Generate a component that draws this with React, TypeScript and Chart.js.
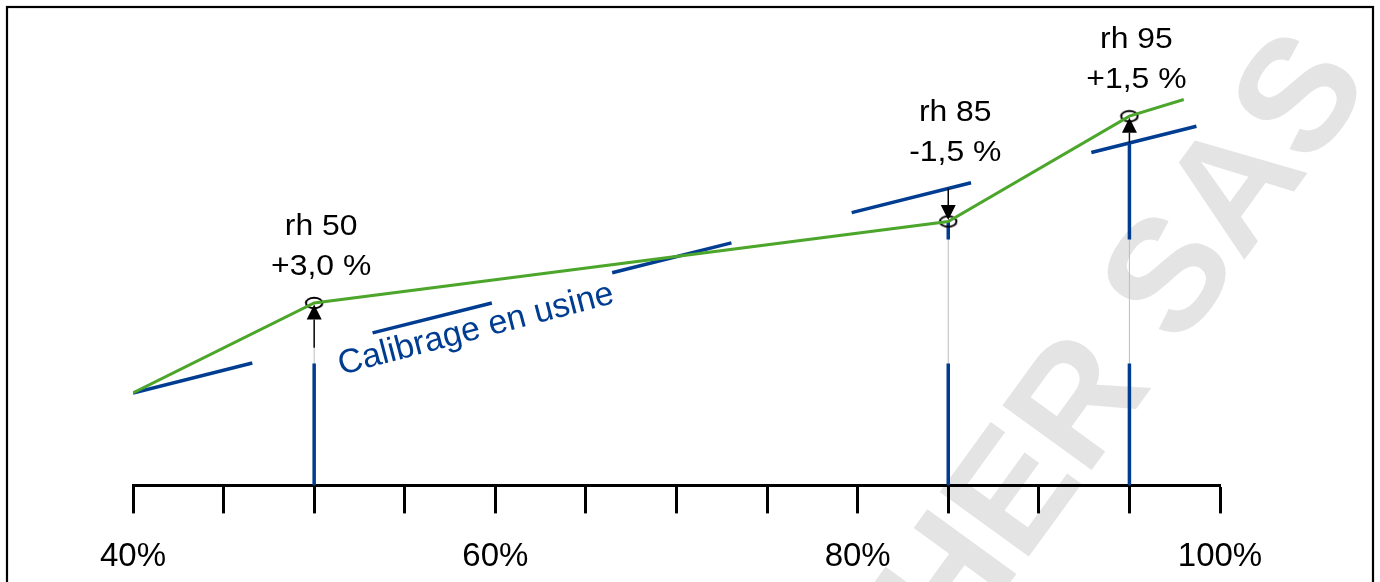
import { useEffect, useRef } from 'react';
import { Chart, registerables } from 'chart.js';

Chart.register(...registerables);

// ---- data ----
const axisLabelValues = [40, 60, 80, 100];
const axisLabels = ['40%', '60%', '80%', '100%'];

// factory calibration line (dashed blue)
const factoryX = [40, 98.7];
const factoryY = [19.4, 75.4];

// adjusted curve (green)
const adjustedX = [40, 50, 85, 95, 98];
const adjustedY = [19.4, 38.3, 55.4, 77.5, 81.0];

// calibration points
const calPointX = [50, 85, 95];
const calPointFactory = [28.9, 62.3, 71.9];
const calPointAdjusted = [38.3, 55.4, 77.5];
const calPointName = ['rh 50', 'rh 85', 'rh 95'];
const calPointOffset = ['+3,0 %', '-1,5 %', '+1,5 %'];

const seriesLabel = 'Calibrage en usine';
const watermarkText = 'HER SAS';

const BLUE = '#003d91';
const GREEN = '#4ca62b';
const FONT = '"Liberation Sans", Arial, sans-serif';

function makeEllipse(): HTMLCanvasElement {
  const c = document.createElement('canvas');
  c.width = 20;
  c.height = 14;
  const g = c.getContext('2d')!;
  g.strokeStyle = '#000';
  g.lineWidth = 2;
  g.beginPath();
  g.ellipse(10, 7, 8.2, 5.3, 0, 0, Math.PI * 2);
  g.stroke();
  return c;
}

const overlayPlugin = {
  id: 'overlay',
  beforeDraw(chart: any) {
    const ctx = chart.ctx as CanvasRenderingContext2D;
    ctx.save();
    ctx.translate(1128, 345);
    ctx.rotate((-54 * Math.PI) / 180);
    ctx.font = `bold 160px ${FONT}`;
    ctx.fillStyle = '#e4e4e4';
    ctx.textAlign = 'center';
    ctx.textBaseline = 'middle';
    ctx.fillText(watermarkText, 0, 0);
    ctx.restore();
  },
  afterDatasetsDraw(chart: any) {
    const ctx = chart.ctx as CanvasRenderingContext2D;
    const xs = chart.scales.x;
    const ys = chart.scales.y;

    // arrows
    calPointX.forEach((xv, i) => {
      const px = xs.getPixelForValue(xv);
      const yFrom = ys.getPixelForValue(calPointFactory[i]);
      const yTo = ys.getPixelForValue(calPointAdjusted[i]);
      const dir = yTo < yFrom ? -1 : 1;
      const headLen = 15;
      const halfW = 7.5;
      const tip = yTo - dir * 1.5;
      ctx.save();
      ctx.strokeStyle = '#000';
      ctx.fillStyle = '#000';
      ctx.lineWidth = 1.5;
      ctx.beginPath();
      ctx.moveTo(px, yFrom);
      ctx.lineTo(px, tip - dir * headLen);
      ctx.stroke();
      ctx.beginPath();
      ctx.moveTo(px, tip);
      ctx.lineTo(px - halfW, tip - dir * headLen);
      ctx.lineTo(px + halfW, tip - dir * headLen);
      ctx.closePath();
      ctx.fill();
      ctx.restore();

      // labels
      const top = Math.min(yFrom, yTo);
      const cx = px + 7;
      ctx.save();
      ctx.fillStyle = '#000';
      ctx.font = `29px ${FONT}`;
      ctx.textAlign = 'center';
      ctx.textBaseline = 'alphabetic';
      ctx.translate(cx, top - 28);
      ctx.scale(1.1, 1);
      ctx.fillText(calPointOffset[i], 0, 0);
      ctx.fillText(calPointName[i], 0, -40);
      ctx.restore();
    });

    // series label along factory line
    const x0 = xs.getPixelForValue(factoryX[0]);
    const y0 = ys.getPixelForValue(factoryY[0]);
    const x1 = xs.getPixelForValue(factoryX[1]);
    const y1 = ys.getPixelForValue(factoryY[1]);
    const ang = Math.atan2(y1 - y0, x1 - x0) - 0.012;
    ctx.save();
    ctx.translate(xs.getPixelForValue(51.5), ys.getPixelForValue(23.2));
    ctx.rotate(ang);
    ctx.font = `34px ${FONT}`;
    ctx.fillStyle = BLUE;
    ctx.textAlign = 'left';
    ctx.textBaseline = 'alphabetic';
    ctx.fillText(seriesLabel, 0, 0);
    ctx.restore();

    // frame
    ctx.save();
    ctx.strokeStyle = '#000';
    ctx.lineWidth = 2.2;
    ctx.strokeRect(7, 7, 1366, 640);
    ctx.restore();
  },
};

export default function App() {
  const ref = useRef<HTMLCanvasElement | null>(null);

  useEffect(() => {
    if (!ref.current) return;
    const ellipse = makeEllipse();

    const verticalBlue = calPointX.map((xv, i) => ({
      type: 'line' as const,
      data: [
        { x: xv, y: 0 },
        { x: xv, y: Math.min(calPointFactory[i], calPointAdjusted[i]) },
      ],
      borderColor: BLUE,
      borderWidth: 3.5,
      borderDash: [122, 124],
      borderCapStyle: 'butt' as const,
      pointRadius: 0,
    }));
    const verticalGray = calPointX.map((xv, i) => ({
      type: 'line' as const,
      data: [
        { x: xv, y: 0 },
        { x: xv, y: Math.min(calPointFactory[i], calPointAdjusted[i]) },
      ],
      borderColor: '#bdbdbd',
      borderWidth: 1,
      pointRadius: 0,
    }));

    const chart = new Chart(ref.current, {
      type: 'line',
      data: {
        datasets: [
          {
            label: 'adjusted',
            data: adjustedX.map((x, i) => ({ x, y: adjustedY[i] })),
            borderColor: GREEN,
            borderWidth: 3,
            pointRadius: 0,
            tension: 0,
          },
          {
            label: 'points',
            type: 'scatter',
            data: calPointX.map((x, i) => ({ x, y: calPointAdjusted[i] })),
            pointStyle: ellipse,
            pointRadius: 8,
            showLine: false,
          } as any,
          {
            label: seriesLabel,
            data: factoryX.map((x, i) => ({ x, y: factoryY[i] })),
            borderColor: BLUE,
            borderWidth: 3.5,
            borderDash: [123, 124],
            borderCapStyle: 'butt',
            pointRadius: 0,
          },
          ...verticalBlue,
          ...verticalGray,
        ],
      },
      options: {
        animation: false,
        responsive: true,
        maintainAspectRatio: false,
        layout: { padding: { left: 133, right: 160, top: 5, bottom: -19 } },
        plugins: { legend: { display: false }, tooltip: { enabled: false } },
        scales: {
          x: {
            type: 'linear',
            min: 40,
            max: 100,
            position: 'bottom',
            ticks: {
              stepSize: 5,
              autoSkip: false,
              maxRotation: 0,
              minRotation: 0,
              padding: 24,
              color: '#000',
              font: { family: FONT, size: 33 },
              callback: (v: any) => {
                const i = axisLabelValues.indexOf(Number(v));
                return i >= 0 ? axisLabels[i] : '';
              },
            },
            grid: {
              display: true,
              drawOnChartArea: false,
              drawTicks: true,
              tickLength: 28,
              tickWidth: 3,
              tickColor: '#000',
              color: '#000',
            },
            border: { display: true, color: '#000', width: 3 },
          },
          y: { display: false, min: 0, max: 100 },
        },
      },
      plugins: [overlayPlugin],
    } as any);

    return () => chart.destroy();
  }, []);

  return (
    <div style={{ position: 'fixed', left: 0, top: 0, width: 1380, height: 582, background: '#fff' }}>
      <canvas ref={ref} style={{ display: 'block' }} />
    </div>
  );
}
